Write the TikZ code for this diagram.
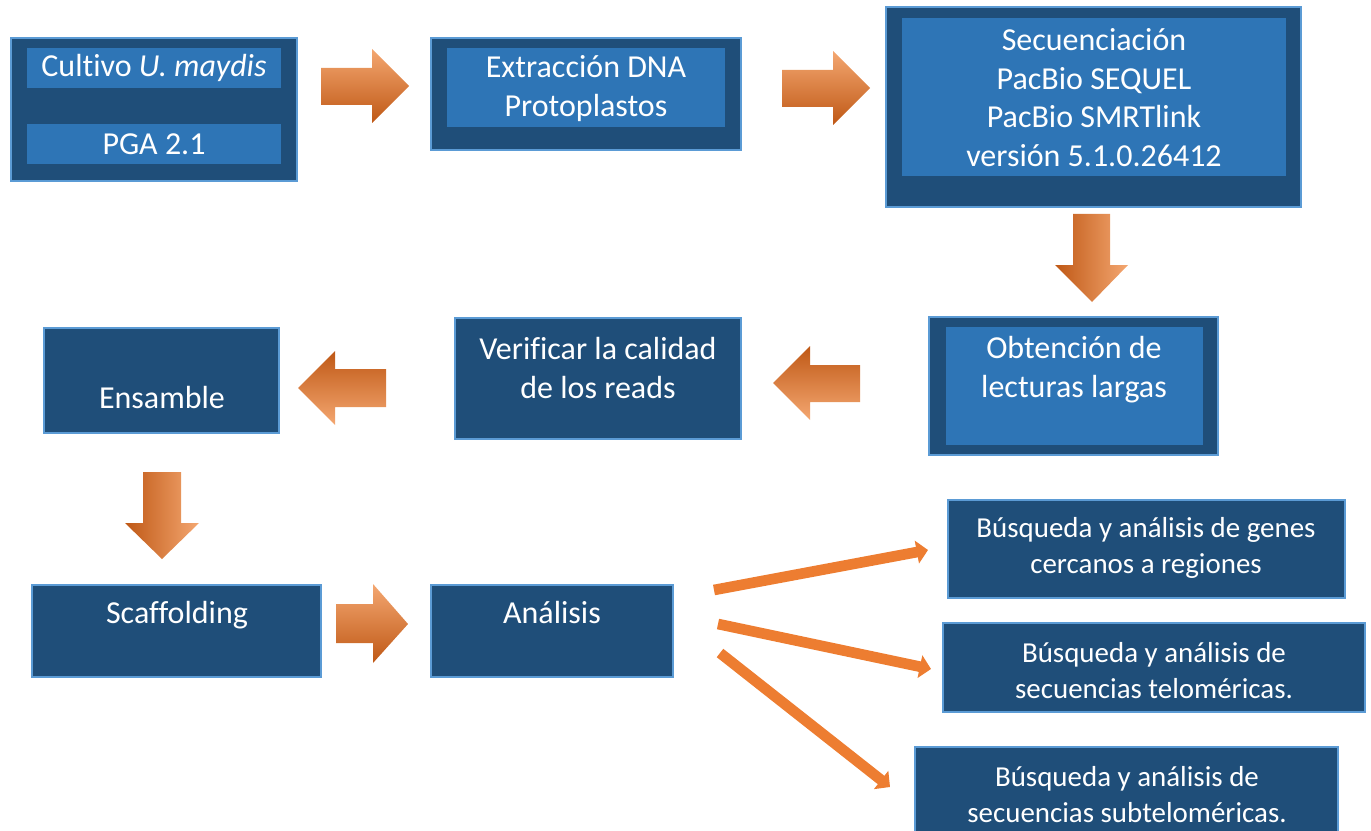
\documentclass[tikz,border=0pt]{standalone}
\usepackage{fontspec}
\setmainfont{Carlito}[Ligatures=NoCommon]
\usetikzlibrary{fit,arrows.meta}
\definecolor{dk}{HTML}{1F4E79}
\definecolor{md}{HTML}{2E75B6}
\definecolor{bd}{HTML}{5B9BD5}
\definecolor{oL}{HTML}{F4A771}
\definecolor{oM}{HTML}{ED7D31}
\definecolor{oD}{HTML}{BF5815}
\begin{document}
\begin{tikzpicture}[x=0.75pt,y=-0.75pt,
  outerbox/.style={draw=bd, line width=1pt, fill=dk, inner sep=0pt},
  innerbox/.style={fill=md, draw=none, inner sep=0pt},
  big/.style={text=white, font=\fontsize{24}{29.25}\selectfont, align=center, inner sep=0pt, anchor=base},
  small/.style={text=white, font=\fontsize{21.7}{26.6}\selectfont, align=center, inner sep=0pt, anchor=base},
  rarrow/.style={top color=oL, middle color=oM, bottom color=oD, draw=none},
  larrow/.style={top color=oD, middle color=oM, bottom color=oL, draw=none},
  darrow/.style={left color=oD, middle color=oM, right color=oL, draw=none},
  thinarrow/.style={draw=oM, line width=8pt, -{Triangle[width=17pt,length=8.5pt]}}]
\useasboundingbox (0,0) rectangle (1371,831);
\clip (0,0) rectangle (1371,831);

% boxes
\node[outerbox, fit={(11,38) (297,181)}] (b1) {};
\node[innerbox, fit={(27,48) (281,88)}] (b1a) {};
\node[innerbox, fit={(27,124) (281,164)}] (b1b) {};
\node[outerbox, fit={(431,38) (741,150)}] (b2) {};
\node[innerbox, fit={(447,48) (725,127)}] (b2a) {};
\node[outerbox, fit={(886,7) (1301,207)}] (b3) {};
\node[innerbox, fit={(902,18) (1286,176)}] (b3a) {};
\node[outerbox, fit={(929,317) (1218,455)}] (b4) {};
\node[innerbox, fit={(946,327) (1203,445)}] (b4a) {};
\node[outerbox, fit={(455,318) (741,439)}] (b5) {};
\node[outerbox, fit={(44,328) (279,433)}] (b6) {};
\node[outerbox, fit={(32,585) (321,677)}] (b7) {};
\node[outerbox, fit={(431,585) (673,677)}] (b8) {};
\node[outerbox, fit={(948,500) (1345,598)}] (b9) {};
\node[outerbox, fit={(943,623) (1365,712)}] (b10) {};
\node[outerbox, fit={(915,747) (1338,850)}] (b11) {};

% texts (anchor=base is the baseline of the last line)
\node[big] (t1) at (154,77) {Cultivo \textit{U. maydis}};
\node[big] (t2) at (154,155) {PGA 2.1};
\node[big] (t3) at (586,117) {Extracción DNA\\Protoplastos};
\node[big] (t4) at (1094,167) {Secuenciación\\PacBio SEQUEL\\PacBio SMRTlink\\versión 5.1.0.26412};
\node[big] (t5) at (1074,397) {Obtención de\\lecturas largas};
\node[big] (t6) at (598,398) {Verificar la calidad\\de los reads};
\node[big] (t7) at (162,408) {Ensamble};
\node[big] (t8) at (177,623) {Scaffolding};
\node[big] (t9) at (552,623) {Análisis};
\node[small] (t10) at (1146,573) {Búsqueda y análisis de genes\\cercanos a regiones};
\node[small] (t11) at (1154,698) {Búsqueda y análisis de\\secuencias teloméricas.};
\node[small] (t12) at (1127,822) {Búsqueda y análisis de\\secuencias subteloméricas.};

% block arrows
\shade[rarrow] (321,68) -- (372,68) -- (372,49) -- (409,86) -- (372,123) -- (372,105) -- (321,105) -- cycle;
\shade[rarrow] (782,70) -- (833,70) -- (833,51) -- (870,88) -- (833,125) -- (833,107) -- (782,107) -- cycle;
\shade[darrow] (1073,214) -- (1110,214) -- (1110,265) -- (1128,265) -- (1092,302) -- (1055,265) -- (1073,265) -- cycle;
\shade[larrow] (860,365) -- (810,365) -- (810,346) -- (773,383) -- (810,420) -- (810,402) -- (860,402) -- cycle;
\shade[larrow] (386,369) -- (335,369) -- (335,351) -- (298,388) -- (335,425) -- (335,407) -- (386,407) -- cycle;
\shade[darrow] (143,472) -- (181,472) -- (181,523) -- (199,523) -- (162,559) -- (125,523) -- (143,523) -- cycle;
\shade[rarrow] (336,604) -- (373,604) -- (373,584) -- (408,624) -- (373,663) -- (373,643) -- (336,643) -- cycle;

% thin arrows
\coordinate (a1s) at (714,590);
\coordinate (a1e) at (928,550);
\coordinate (a2s) at (718,624);
\coordinate (a2e) at (931,669);
\coordinate (a3s) at (720,653);
\coordinate (a3e) at (890,787);
\draw[thinarrow] (a1s) -- (a1e);
\draw[thinarrow] (a2s) -- (a2e);
\draw[thinarrow] (a3s) -- (a3e);
\end{tikzpicture}
\end{document}
